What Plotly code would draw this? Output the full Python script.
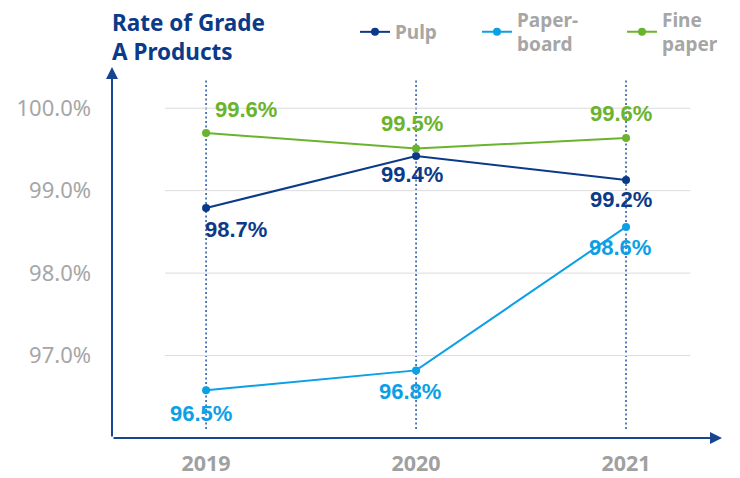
import plotly.graph_objects as go

years = ["2019", "2020", "2021"]
pulp = [98.79, 99.42, 99.13]
paperboard = [96.58, 96.82, 98.56]
fine_paper = [99.70, 99.51, 99.64]
pulp_labels = ["98.7%", "99.4%", "99.2%"]
paperboard_labels = ["96.5%", "96.8%", "98.6%"]
fine_paper_labels = ["99.6%", "99.5%", "99.6%"]
y_ticks = [97, 98, 99, 100]
y_tick_labels = ["97.0%", "98.0%", "99.0%", "100.0%"]

# the page body has an 8px margin, so the figure is 8px smaller than the window
W, H = 732, 470

series = [
    dict(name="Pulp", values=pulp, labels=pulp_labels, color="#0b3a88",
         shifts=[(30, -22), (-4, -18), (-5, -20)], legend="legend", lx=347),
    dict(name="Paper-<br>board", values=paperboard, labels=paperboard_labels, color="#0ba0e6",
         shifts=[(-5, -23), (-6, -21), (-6, -21)], legend="legend2", lx=469),
    dict(name="Fine<br>paper", values=fine_paper, labels=fine_paper_labels, color="#6ab42d",
         shifts=[(40, 23), (-4, 25), (-5, 24)], legend="legend3", lx=614),
]

axis_color = "#17458f"
fig = go.Figure()

legend_font = dict(family="Noto Sans", size=19, color="#a6a6a6", weight="bold")
legends = {}
for s in series:
    fig.add_trace(go.Scatter(
        x=list(range(len(years))), y=s["values"], name=s["name"],
        mode="lines+markers",
        line=dict(color=s["color"], width=2),
        marker=dict(color=s["color"], size=8),
        cliponaxis=False, legend=s["legend"],
    ))
    legends[s["legend"]] = dict(
        orientation="h", xref="container", yref="container",
        x=s["lx"] / W, y=(H - 24) / H, xanchor="left", yanchor="middle", valign="middle",
        font=legend_font, itemwidth=30, bgcolor="rgba(0,0,0,0)",
    )
    for i, (v, t) in enumerate(zip(s["values"], s["labels"])):
        dx, dy = s["shifts"][i]
        fig.add_annotation(
            x=i, y=v, text=t, showarrow=False, xshift=dx, yshift=dy,
            font=dict(family="Liberation Sans, Arial", size=22, color=s["color"], weight="bold"),
        )

# dotted vertical guide lines at each year
for i in range(len(years)):
    fig.add_shape(type="line", xref="x", yref="y domain", x0=i, x1=i, y0=0.024, y1=0.97,
                  line=dict(color="#2f5eaa", width=1.6, dash="2px,2.5px"), layer="below")

# horizontal gridlines
for v in y_ticks:
    fig.add_shape(type="line", xref="x domain", yref="y", x0=0.087, x1=0.948, y0=v, y1=v,
                  line=dict(color="#dcdcdc", width=1), layer="below")

# axis arrows
fig.add_annotation(xref="x domain", yref="y domain", axref="x domain", ayref="y domain",
                   x=0, y=1, ax=0, ay=0, text="", showarrow=True, arrowhead=2, arrowsize=1.2,
                   arrowwidth=2, arrowcolor=axis_color, standoff=0, startstandoff=0)
fig.add_annotation(xref="x domain", yref="y domain", axref="x domain", ayref="y domain",
                   x=1, y=0, ax=0, ay=0, text="", showarrow=True, arrowhead=2, arrowsize=1.2,
                   arrowwidth=2, arrowcolor=axis_color, standoff=0, startstandoff=0)

# title
fig.add_annotation(xref="paper", yref="paper", x=0, y=1.167, xanchor="left", yanchor="top",
                   xshift=-2, text="Rate of Grade<br>A Products", showarrow=False, align="left",
                   font=dict(family="Noto Sans", size=22.5, color="#0b3a88", weight="bold"))

fig.update_layout(
    width=W, height=H,
    margin=dict(l=104, r=18, t=59, b=40, autoexpand=False),
    paper_bgcolor="white", plot_bgcolor="white",
    showlegend=True,
    xaxis=dict(range=[-0.448, 2.457], tickvals=list(range(len(years))), ticktext=years,
               showgrid=False, zeroline=False, showline=False, ticks="", automargin=False,
               ticklabelstandoff=10,
               tickfont=dict(family="Noto Sans", size=21.5, color="#a0a0a0", weight="bold")),
    yaxis=dict(range=[96.0, 100.5], tickvals=y_ticks, ticktext=y_tick_labels,
               showgrid=False, zeroline=False, showline=False, ticks="", automargin=False,
               ticklabelstandoff=20,
               tickfont=dict(family="Noto Sans", size=22, color="#a6a6a6")),
    **legends,
)

fig.write_html("out.html")
